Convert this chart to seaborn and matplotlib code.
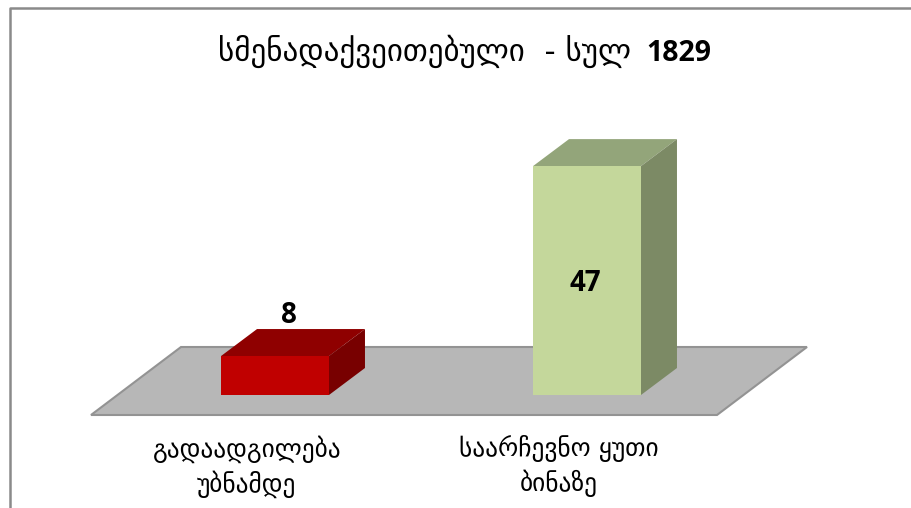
import pandas as pd
import matplotlib.pyplot as plt
import matplotlib.transforms as mtrans
import seaborn as sns
from matplotlib.patches import Polygon

# Values
categories = ['გადაადგილება\nუბნამდე', 'საარჩევნო ყუთი\nბინაზე']
values = [8, 47]
front_colors = ['#C00000', '#C4D79B']
top_colors = ['#8F0000', '#93A57A']
side_colors = ['#780000', '#7C8A65']
title_text = 'სმენადაქვეითებული  - სულ'
title_total = '1829'

W, H = 911, 508
depth_x, depth_y = 36, 27  # bar depth in pixels

sns.set_theme(style='white')
plt.rcParams['font.family'] = ['DejaVu Sans']

fig = plt.figure(figsize=(W / 100, H / 100), dpi=100)
fig.patch.set_facecolor('white')

# axes box is placed so the bars land where they do in the original
ax = fig.add_axes([119 / W, (H - 395) / H, 624 / W, 243.5 / H])
df = pd.DataFrame({'cat': categories, 'val': values})
sns.barplot(data=df, x='cat', y='val', hue='cat', palette=front_colors,
            width=0.346, legend=False, saturation=1, linewidth=0, ax=ax, zorder=3)
ax.set_xlim(-0.5, 1.5)
ax.set_ylim(0, 50)
ax.set_xlabel('')
ax.set_ylabel('')
ax.set_yticks([])
ax.patch.set_alpha(0)
sns.despine(ax=ax, left=True, bottom=True)
ax.tick_params(axis='x', length=0, pad=29)

# tick labels sit left of the bars, under the middle of the floor
shift = mtrans.ScaledTranslation(-28 / 100, 0, fig.dpi_scale_trans)
for lab in ax.get_xticklabels():
    lab.set_fontsize(18.3)
    lab.set_linespacing(1.36)
    lab.set_color('black')
    lab.set_transform(lab.get_transform() + shift)

pix = lambda x, y: ax.transData.transform((x, y))

# floor under the bars, drawn behind the axes
x0, y0 = pix(-0.5, 0)
x1, _ = pix(1.5, 0)
floor = [(x0 - 28, y0 - 20), (x1 - 26, y0 - 20), (x1 + 64, y0 + 48), (x0 + 62, y0 + 48)]
fig.add_artist(Polygon(floor, closed=True, transform=None, facecolor='#B7B7B7',
                       edgecolor='#939393', linewidth=1.5, zorder=-1))

# frame around the chart
fig.add_artist(plt.Line2D([9.5, 9.5, W], [0, H - 8, H - 8], transform=None,
                          color='#8A8A8A', linewidth=1.8))

# depth faces, worked out from the bars seaborn drew
for bar, top_c, side_c, val in zip(ax.patches, top_colors, side_colors, values):
    bx = bar.get_x()
    bw = bar.get_width()
    (l, b) = pix(bx, 0)
    (r, t) = pix(bx + bw, val)
    ax.add_patch(Polygon([(l, t), (r, t), (r + depth_x, t + depth_y), (l + depth_x, t + depth_y)],
                         closed=True, transform=None, facecolor=top_c, edgecolor='none',
                         zorder=2, clip_on=False))
    ax.add_patch(Polygon([(r, b), (r + depth_x, b + depth_y), (r + depth_x, t + depth_y), (r, t)],
                         closed=True, transform=None, facecolor=side_c, edgecolor='none',
                         zorder=2, clip_on=False))

# data labels
ax.text(0.045, values[0] + 5.4, str(values[0]), ha='center', va='bottom', fontsize=20,
        fontweight='bold', family='Open Sans', color='black', zorder=5)
ax.text(0.995, 22.8, str(values[1]), ha='center', va='center', fontsize=20,
        fontweight='bold', family='Open Sans', color='black', zorder=5)

# title, georgian part and the bold total
fig.text(218 / W, (H - 61) / H, title_text, ha='left', va='baseline', fontsize=22.3, color='black')
fig.text(646 / W, (H - 61) / H, title_total, ha='left', va='baseline', fontsize=20.5,
         fontweight='bold', family='Open Sans', color='black')

fig.savefig('out.png', dpi=100)
